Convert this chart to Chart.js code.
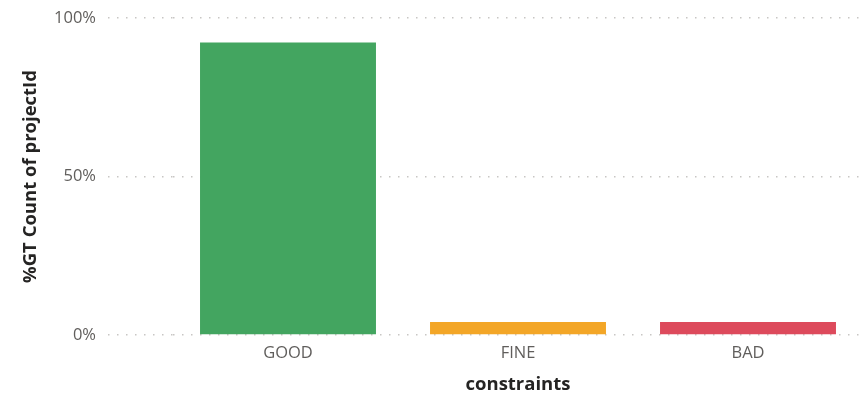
<!DOCTYPE html>
<html>
<head>
<meta charset="utf-8">
<script src="https://cdn.jsdelivr.net/npm/chart.js@4"></script>
<style>
  html, body { margin: 0; padding: 0; background: #fff; overflow: hidden; }
  #wrap { width: 866px; height: 396px; }
</style>
</head>
<body>
<div id="wrap"><canvas id="chart"></canvas></div>
<script>
// data
var categories = ["GOOD", "FINE", "BAD"];
var percentValues = [92.3, 4.1, 4.1];
var barColors = ["#43A560", "#F3A627", "#DD4A5C"];
var yTicks = [0, 50, 100];

var font = "'Open Sans', 'Noto Sans', sans-serif";

new Chart(document.getElementById("chart"), {
    type: "bar",
    data: {
        labels: categories,
        datasets: [{
            label: "%GT Count of projectId",
            data: percentValues,
            backgroundColor: barColors,
            borderWidth: 0,
            categoryPercentage: 1,
            barPercentage: 0.765
        }]
    },
    options: {
        responsive: true,
        maintainAspectRatio: false,
        animation: false,
        layout: { padding: { top: 18, right: 3, left: 20, bottom: 0 } },
        plugins: { legend: { display: false }, tooltip: { enabled: false } },
        scales: {
            x: {
                grid: { display: false, drawTicks: false },
                border: { display: false },
                ticks: { color: "#605E5C", font: { family: font, size: 16.5 }, padding: 8 },
                title: {
                    display: true,
                    text: "constraints",
                    color: "#252423",
                    font: { family: font, size: 18.5, weight: "bold" },
                    padding: { top: 0, bottom: 0 }
                },
                afterFit: function (scale) { scale.height = 61; }
            },
            y: {
                min: 0,
                max: 100,
                afterBuildTicks: function (scale) {
                    scale.ticks = yTicks.map(function (v) { return { value: v }; });
                },
                grid: {
                    color: "#C8C6C4",
                    lineWidth: 1.5,
                    tickLength: 65,
                    tickColor: "#C8C6C4",
                    tickWidth: 1.5,
                    tickBorderDash: [1.5, 7.5],
                    drawTicks: true
                },
                border: { display: false, dash: [1.5, 7.5] },
                ticks: {
                    color: "#605E5C",
                    font: { family: font, size: 16.5 },
                    padding: 12,
                    callback: function (v) { return v + "%"; }
                },
                title: {
                    display: true,
                    text: "%GT Count of projectId",
                    color: "#252423",
                    font: { family: font, size: 18.5, weight: "bold" },
                    padding: { top: 0, bottom: 0 }
                },
                afterFit: function (scale) {
                    scale.width = 153;
                    scale.paddingTop = 0;
                    scale.paddingBottom = 0;
                }
            }
        }
    }
});
</script>
</body>
</html>
